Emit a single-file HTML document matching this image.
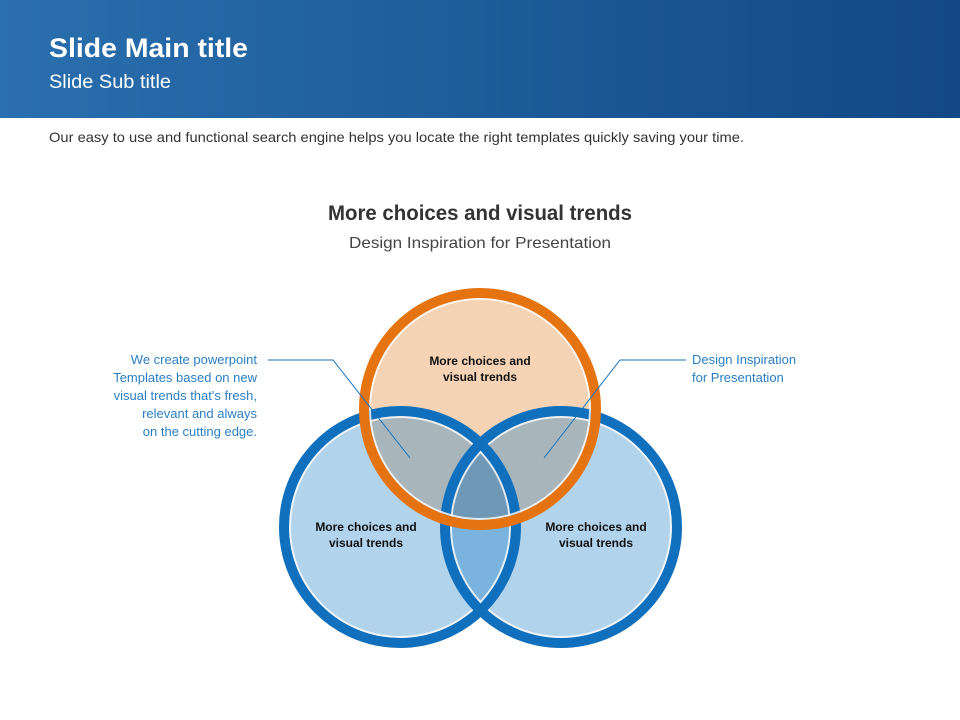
<!DOCTYPE html>
<html><head><meta charset="utf-8"><style>
html,body{margin:0;padding:0;background:#fff;}
svg{display:block;font-family:"Liberation Sans",sans-serif;}
</style></head><body>
<svg width="960" height="720" viewBox="0 0 960 720" xmlns="http://www.w3.org/2000/svg">
<defs>
<linearGradient id="hg" x1="0" y1="0" x2="1" y2="0">
<stop offset="0" stop-color="#2a6fae"/><stop offset="1" stop-color="#124886"/>
</linearGradient>
<clipPath id="cpTop"><rect x="455" y="425" width="40" height="40"/></clipPath>
<clipPath id="cT"><circle cx="480" cy="409" r="114"/></clipPath>
<clipPath id="cL"><circle cx="400" cy="527" r="114"/></clipPath>
<clipPath id="cR"><circle cx="561" cy="527" r="114"/></clipPath>
</defs>
<rect x="0" y="0" width="960" height="118" fill="url(#hg)"/>
<text x="49" y="57" font-size="27" font-weight="bold" fill="#fff" textLength="199" lengthAdjust="spacingAndGlyphs">Slide Main title</text>
<text x="49" y="88" font-size="19" fill="#fff" textLength="122" lengthAdjust="spacingAndGlyphs">Slide Sub title</text>
<text x="49" y="142" font-size="14" fill="#333" textLength="695" lengthAdjust="spacingAndGlyphs">Our easy to use and functional search engine helps you locate the right templates quickly saving your time.</text>
<text x="480" y="220" font-size="21" font-weight="bold" fill="#333" text-anchor="middle" textLength="304" lengthAdjust="spacingAndGlyphs">More choices and visual trends</text>
<text x="480" y="248" font-size="16" fill="#444" text-anchor="middle" textLength="262" lengthAdjust="spacingAndGlyphs">Design Inspiration for Presentation</text>

<circle cx="400" cy="527" r="114" fill="#b2d3ec"/>
<circle cx="561" cy="527" r="114" fill="#b2d3ec"/>
<circle cx="480" cy="409" r="114" fill="#f6d3b4"/>
<g clip-path="url(#cT)">
<circle cx="400" cy="527" r="114" fill="#a8b5bb"/>
<circle cx="561" cy="527" r="114" fill="#a8b5bb"/>
</g>
<g clip-path="url(#cL)">
<circle cx="561" cy="527" r="114" fill="#7ab3dd"/>
<g clip-path="url(#cT)"><circle cx="561" cy="527" r="114" fill="#6f98b6"/></g>
</g>
<g fill="none">
<circle cx="400" cy="527" r="110" stroke="#fff" stroke-width="2" opacity="0.8"/>
<circle cx="561" cy="527" r="110" stroke="#fff" stroke-width="2" opacity="0.8"/>
<circle cx="400" cy="527" r="116" stroke="#1070bd" stroke-width="10"/>
<circle cx="561" cy="527" r="116" stroke="#1070bd" stroke-width="10"/>
<circle cx="480" cy="409" r="110" stroke="#fff" stroke-width="2" opacity="0.8"/>
<circle cx="480" cy="409" r="116" stroke="#e5730f" stroke-width="10"/>
<circle cx="561" cy="527" r="116" stroke="#1070bd" stroke-width="10" clip-path="url(#cpTop)"/>
</g>

<g font-size="12" font-weight="bold" fill="#111" text-anchor="middle">
<text x="480" y="365">More choices and</text>
<text x="480" y="381">visual trends</text>
<text x="366" y="531">More choices and</text>
<text x="366" y="547">visual trends</text>
<text x="596" y="531">More choices and</text>
<text x="596" y="547">visual trends</text>
</g>

<g stroke="#1a73b8" stroke-width="1" fill="none">
<polyline points="268,360 333,360 410,458"/>
<polyline points="686,360 620,360 544,458"/>
</g>
<g font-size="13" fill="#2a7fc4">
<g text-anchor="end">
<text x="257" y="364">We create powerpoint</text>
<text x="257" y="382">Templates based on new</text>
<text x="257" y="400">visual trends that's fresh,</text>
<text x="257" y="418">relevant and always</text>
<text x="257" y="436">on the cutting edge.</text>
</g>
<text x="692" y="364">Design Inspiration</text>
<text x="692" y="382">for Presentation</text>
</g>
</svg>
</body></html>
